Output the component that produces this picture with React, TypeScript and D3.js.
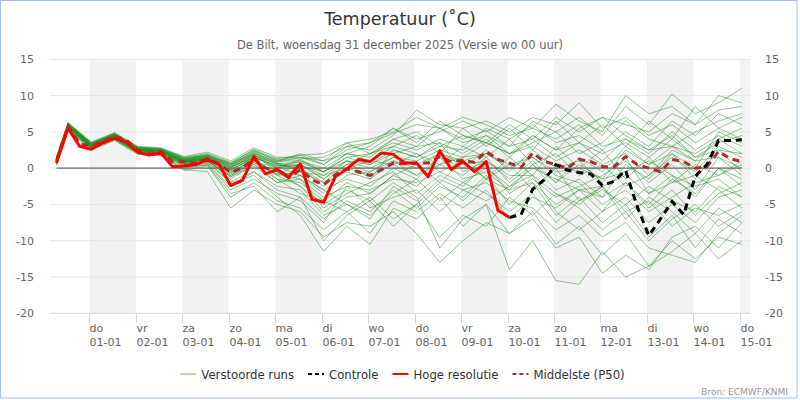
import { useEffect, useRef } from 'react';
import * as d3 from 'd3';

// ECMWF pluim De Bilt, run wo 31-12-2025 00 uur; tijdstappen van 6 uur vanaf 31-12 07:00
const runStart = new Date(2025, 11, 31, 7, 0);
const stepHours = 6;

const hogeResolutie = [
  0.7, 5.5, 3.0, 2.6, 3.5, 4.1, 3.6, 2.2, 1.8, 2.1,
  0.2, 0.3, 0.5, 1.2, 0.5, -2.4, -1.7, 1.6, -0.8, -0.2,
  -1.2, 0.6, -4.3, -4.7, -1.2, -0.1, 1.2, 0.9, 2.1, 1.9,
  0.7, 0.7, -1.2, 2.4, -0.2, 0.9, -0.5, 0.9, -5.8, -6.8,
];

// controle vanaf stap 39 (waar de hoge resolutie stopt)
const controleFirstStep = 39;
const controle = [
  -6.8, -6.4, -2.9, -1.6, 0.5, -0.3, -0.6, -0.8, -2.4, -1.8,
  -0.3, -5.3, -9.3, -7.0, -4.6, -6.4, -1.1, 0.5, 3.8, 3.8, 3.9,
];

const middelste = [
  1.0, 5.8, 3.3, 3.1, 3.7, 4.4, 3.9, 2.5, 2.0, 2.3,
  0.9, 0.9, 0.7, 1.3, 0.6, -0.6, 0.0, 1.3, 0.0, -0.2,
  -1.3, -0.2, -1.6, -2.3, -0.9, -0.1, -0.5, -1.0, -0.2, 0.7,
  0.6, 0.7, 0.7, 1.6, 0.9, 1.1, 0.8, 2.3, 1.2, 0.7,
  0.1, 2.1, 0.9, 0.5, 0.0, 1.2, 0.9, 0.2, 0.2, 1.6,
  0.5, 0.0, -0.5, 1.2, 0.9, 0.0, 0.2, 2.3, 1.3, 0.9,
];

const memberSteps = [
  0, 1, 3, 5, 7, 9, 11, 13, 15, 17, 19, 21, 23, 25, 27, 29,
  31, 33, 35, 37, 39, 41, 43, 45, 47, 49, 51, 53, 55, 57, 59,
];

const verstoordeRuns: number[][] = [
  [1.2, 6.0, 3.3, 4.6, 2.8, 2.5, 1.2, 1.8, 0.5, 2.0, 0.8, 1.5, 0.5, 2.5, 3.5, 4.8, 6.0, 5.5, 4.0, 5.2, 3.0, 6.5, 5.0, 7.0, 4.5, 8.5, 6.0, 10.2, 7.5, 9.0, 11.0],
  [0.8, 5.6, 2.9, 4.2, 2.3, 2.0, 0.5, 1.0, -1.5, 0.5, -1.5, -2.0, -4.5, -2.0, -3.5, -1.0, -2.5, 0.5, -1.0, 1.5, -2.0, 0.5, -3.0, -1.5, -4.0, -2.0, -5.5, -3.0, -6.5, -3.5, -2.0],
  [1.5, 6.2, 3.5, 4.8, 2.9, 2.7, 1.5, 2.0, 0.8, 2.5, 1.0, 1.0, -0.5, 1.5, 2.0, 3.5, 2.5, 4.0, 3.0, 5.5, 4.0, 6.0, 3.5, 4.5, 2.5, 5.0, 3.0, 6.5, 4.5, 7.5, 6.0],
  [0.5, 5.4, 2.7, 4.0, 2.0, 1.8, 0.0, 0.5, -2.5, -0.5, -3.0, -4.0, -7.0, -4.5, -6.0, -3.0, -5.5, -2.5, -4.0, -1.0, -5.0, -2.0, -6.5, -4.0, -7.5, -5.0, -9.5, -6.5, -11.0, -7.0, -9.0],
  [1.0, 5.9, 3.2, 4.5, 2.6, 2.4, 1.0, 1.5, 0.0, 1.8, 0.5, 0.0, -2.0, 0.5, -0.5, 1.5, 1.0, 2.5, 1.5, 3.5, 2.0, 3.0, 1.0, 2.5, 0.5, 2.0, -1.0, 1.5, -0.5, 3.0, 1.5],
  [0.9, 5.7, 3.0, 4.3, 2.4, 2.2, 0.7, 0.8, -2.0, -1.0, -4.0, -6.5, -11.5, -8.0, -10.5, -5.5, -7.0, -4.0, -8.0, -5.0, -9.0, -6.0, -10.5, -8.0, -12.0, -9.0, -13.5, -10.0, -12.5, -9.5, -10.5],
  [1.4, 6.1, 3.4, 4.7, 2.7, 2.6, 1.3, 1.6, 0.4, 2.3, 1.2, 1.3, 1.5, 3.0, 2.5, 4.5, 8.0, 6.0, 5.5, 6.5, 5.0, 7.0, 6.0, 9.0, 5.5, 7.0, 4.5, 6.0, 3.5, 5.5, 4.0],
  [1.1, 5.8, 3.1, 4.4, 2.5, 2.3, 0.9, 1.2, -0.8, 1.0, -0.5, -1.0, -3.0, -1.5, -2.5, 0.0, -1.5, 1.5, 0.0, 2.5, -0.5, 2.5, 0.0, 1.0, -2.0, 1.5, -3.5, -1.0, -4.0, 0.0, -1.5],
  [0.7, 5.5, 2.8, 4.1, 2.2, 2.1, 0.6, 0.9, -1.0, 0.8, -1.0, -2.5, -5.0, -3.0, -4.5, -2.0, -4.0, -11.0, -7.0, -5.0, -14.0, -10.0, -15.5, -16.0, -11.5, -15.0, -13.5, -11.5, -9.0, -12.5, -10.0],
  [1.3, 6.0, 3.3, 4.6, 2.7, 2.5, 1.1, 1.4, -0.3, 1.5, 0.0, 0.5, -1.5, 1.0, 0.5, 2.0, 3.0, 3.5, 2.0, 4.0, 1.5, 4.5, 2.5, 3.5, 1.0, 4.0, 2.0, 5.0, 2.5, 4.5, 3.0],
  [0.6, 5.3, 2.6, 3.9, 2.1, 1.9, -0.3, 0.3, -4.0, -2.0, -4.5, -5.5, -8.5, -6.0, -9.0, -4.5, -6.0, -3.5, -5.5, -3.0, -7.0, -4.0, -5.5, -3.0, -6.0, -2.0, -5.0, -1.5, -3.5, 0.0, -2.5],
  [1.6, 6.3, 3.6, 4.9, 3.0, 2.8, 1.6, 2.2, 1.0, 2.8, 1.5, 1.5, 1.0, 2.0, 3.0, 5.5, 4.0, 5.0, 6.5, 5.0, 7.0, 5.5, 8.8, 6.5, 5.0, 10.0, 7.5, 8.5, 6.0, 8.0, 8.5],
  [1.0, 5.8, 3.0, 4.3, 2.4, 2.2, 0.8, 1.1, -1.2, 0.3, -2.0, -1.5, -5.5, -3.5, -2.0, -0.5, -3.5, -1.0, -2.5, 0.5, -3.5, -1.5, -4.0, -2.5, -1.0, 1.0, -2.0, 0.5, -3.0, 1.5, 0.0],
  [1.2, 5.9, 3.2, 4.5, 2.6, 2.4, 1.0, 1.5, 0.2, 1.5, 0.3, 0.5, -1.0, 0.0, 1.0, 3.0, 2.0, 0.5, 3.0, 1.5, 4.0, 0.5, 2.0, -1.0, 0.5, -2.5, -1.0, 2.5, 1.0, 4.0, 2.0],
  [0.4, 5.2, 2.5, 3.8, 1.9, 1.7, -0.2, -0.5, -5.5, -3.0, -5.0, -6.0, -9.5, -7.5, -8.0, -6.0, -9.0, -13.0, -10.0, -7.5, -9.0, -7.0, -11.0, -9.5, -14.5, -12.0, -14.0, -9.5, -8.0, -11.0, -7.5],
  [1.1, 5.9, 3.2, 4.5, 2.6, 2.4, 0.9, 1.3, -0.5, 1.0, 0.0, 1.0, 0.0, 2.0, 1.5, 4.0, 5.0, 3.0, 4.5, 3.5, 6.0, 4.0, 7.0, 5.0, 7.0, 6.0, 5.0, 7.5, 6.0, 10.0, 9.0],
  [0.8, 5.6, 2.9, 4.2, 2.3, 2.0, 0.4, 0.7, -1.8, -0.5, -2.5, -3.0, -6.5, -5.0, -7.0, -2.5, -4.5, -1.5, -3.0, -2.0, -4.5, -5.5, -8.5, -6.5, -9.5, -7.5, -11.0, -12.0, -13.0, -9.0, -6.5],
  [1.3, 6.1, 3.4, 4.7, 2.8, 2.6, 1.4, 1.7, 0.6, 2.2, 0.7, -0.5, -1.0, 1.0, -1.5, 1.0, 0.0, 2.0, 0.5, 1.0, -1.5, 1.0, -2.0, 0.5, -1.5, -0.5, 1.0, -1.0, -2.5, -1.5, -4.0],
  [0.9, 5.7, 3.0, 4.3, 2.4, 2.2, 0.8, 1.2, -0.2, 1.3, -1.0, -0.5, -2.0, -0.5, -1.5, 2.5, 1.5, 3.5, -0.5, 1.0, -1.0, -1.0, -3.5, -5.0, -2.5, -6.0, -4.5, -8.0, -5.5, -6.5, -5.0],
  [1.5, 6.2, 3.5, 4.8, 2.9, 2.7, 1.4, 1.9, 0.7, 2.6, 1.3, 1.8, 2.0, 3.5, 4.0, 5.0, 7.0, 5.5, 7.0, 6.0, 4.5, 5.5, 4.0, 6.0, 3.0, 4.0, 2.5, 3.0, 2.0, 4.0, 5.5],
  [0.7, 5.5, 2.8, 4.1, 2.2, 2.0, 0.3, 0.6, -3.0, -1.5, -3.5, -4.5, -7.5, -2.5, -5.5, -4.0, -3.0, -6.0, -3.0, -4.5, -2.5, -1.0, -6.0, -8.5, -6.0, -4.0, -7.5, -5.0, -7.5, -4.0, -3.0],
  [1.0, 5.8, 3.1, 4.4, 2.5, 2.3, 0.9, 1.4, -0.4, 1.6, 0.2, -1.0, -3.5, -1.0, -0.5, 1.0, -1.0, 0.5, 1.5, 2.0, 0.0, 1.5, -1.0, -2.0, -5.0, -3.0, -6.0, -4.0, -2.0, -1.0, 0.5],
  [1.1, 5.9, 3.1, 4.4, 2.5, 2.3, 1.0, 1.3, 0.1, 1.8, 0.6, 0.8, -0.5, 1.5, 0.5, 2.5, 1.5, 3.0, 2.5, 4.5, 3.0, 4.0, 1.5, 3.5, 2.0, 3.5, 1.5, 4.0, 1.5, 2.5, 2.0],
  [0.8, 5.6, 2.8, 4.2, 2.3, 2.1, 0.6, 1.0, -1.0, 0.8, -0.8, -1.5, -4.0, -2.5, -3.0, -1.5, -2.0, -0.5, -2.0, 0.0, -2.5, 0.0, -1.5, -3.0, -2.5, -1.0, -3.5, -2.0, -1.0, -3.0, -5.5],
  [1.0, 5.7, 3.0, 4.4, 2.5, 2.2, 0.8, 1.2, -0.6, 1.2, -0.8, 0.5, -1.5, 0.5, 2.0, 4.0, 3.0, 5.5, 3.5, 4.5, 2.0, 3.5, 5.0, 2.0, 3.5, 6.5, 4.0, 3.0, 5.0, 6.5, 7.5],
  [1.2, 6.0, 3.2, 4.5, 2.7, 2.4, 1.1, 1.6, 0.3, 1.9, -0.5, -2.5, -6.0, -4.0, -3.5, -1.0, 0.5, -2.0, 1.0, -1.5, 0.5, -3.0, 0.0, -4.5, -2.5, -7.0, -4.0, -6.0, -9.0, -5.5, -7.5],
  [0.9, 5.8, 3.1, 4.3, 2.4, 2.3, 0.7, 1.3, -0.7, 1.4, -1.5, -3.5, -4.5, -6.0, -4.0, -7.0, -5.0, -2.0, -4.5, -1.5, -3.0, 0.5, -2.0, 1.5, -0.5, 3.0, 0.5, 2.0, -1.5, 2.5, -0.5],
  [1.3, 6.0, 3.3, 4.6, 2.7, 2.5, 1.2, 1.7, 0.4, 2.1, 0.9, 2.0, 1.0, 3.5, 2.0, 3.0, 4.5, 2.0, 5.5, 3.0, 5.5, 2.5, 6.5, 3.5, 6.0, 3.0, 6.5, 4.0, 8.5, 5.5, 7.0],
  [0.6, 5.4, 2.7, 4.0, 2.1, 1.9, 0.2, 0.4, -3.5, -2.5, -6.0, -4.0, -10.0, -6.5, -4.5, -8.0, -5.0, -9.5, -6.5, -8.0, -4.0, -6.5, -3.5, -5.5, -8.5, -6.0, -10.0, -7.0, -5.0, -8.0, -6.0],
  [1.1, 5.9, 3.2, 4.5, 2.6, 2.4, 1.0, 1.4, 0.0, 1.7, 0.4, 0.0, -2.5, 0.0, -1.0, 0.5, 2.0, -0.5, 1.0, -1.5, 1.5, -1.0, 3.0, 0.0, 2.5, -1.5, 1.5, -2.0, 0.5, -1.0, 1.0],
  [1.4, 6.1, 3.4, 4.7, 2.8, 2.6, 1.3, 1.8, 0.6, 2.4, 1.0, 1.8, 0.5, 3.0, 3.5, 5.5, 3.5, 6.5, 4.5, 3.5, 2.0, 4.5, 2.5, 5.5, 7.0, 4.5, 2.5, 4.5, 1.5, 3.5, 4.5],
  [0.8, 5.6, 2.9, 4.2, 2.3, 2.1, 0.5, 0.9, -1.2, 0.6, -2.0, -1.0, -3.0, -5.0, -6.5, -3.5, -1.5, -4.5, -2.0, -3.5, -6.0, -3.5, -7.5, -4.5, -3.0, -5.0, -2.5, -4.5, -6.0, -2.5, -4.0],
  [1.0, 5.8, 3.1, 4.4, 2.5, 2.3, 0.9, 1.3, -0.2, 1.5, 0.1, 1.2, -0.5, 2.0, 1.0, 0.5, -1.0, 1.5, -1.5, -0.5, -3.0, -2.0, -5.0, -3.0, -4.0, 0.5, -1.5, 2.0, 0.0, 5.0, 3.5],
  [1.2, 6.0, 3.3, 4.5, 2.7, 2.5, 1.1, 1.6, 0.2, 2.0, 0.6, 0.3, -0.5, 1.0, 0.0, 1.5, 0.5, 2.0, 1.0, 2.0, 0.5, 1.5, -0.5, 0.0, -1.5, 2.5, 0.5, 3.0, 1.0, 1.5, -1.0],
];

const yTicks = [15, 10, 5, 0, -5, -10, -15, -20];
const dayNames = ['zo', 'ma', 'di', 'wo', 'do', 'vr', 'za'];
const firstDay = new Date(2026, 0, 1);
const lastDay = new Date(2026, 0, 16);

const legendItems = [
  { label: 'Verstoorde runs', color: '#b3dcb3', dash: null },
  { label: 'Controle', color: '#000000', dash: '4,3' },
  { label: 'Hoge resolutie', color: '#ff0000', dash: null },
  { label: 'Middelste (P50)', color: '#b22a2a', dash: '4,3' },
];

const FONT = '"DejaVu Sans", Verdana, sans-serif';

const stepTime = (i: number) => new Date(runStart.getTime() + i * stepHours * 3600 * 1000);

const App = () => {
  const svgRef = useRef<SVGSVGElement | null>(null);
  const width = 800;
  const height = 400;

  useEffect(() => {
    if (!svgRef.current) return;
    const svg = d3.select(svgRef.current);
    svg.selectAll('*').remove();

    const plot = { left: 50, right: 750, top: 59.3, bottom: 313.3 };

    const x = d3.scaleTime()
      .domain([new Date(2025, 11, 31, 3, 40), new Date(2026, 0, 15, 5, 15)])
      .range([plot.left, plot.right]);
    const y = d3.scaleLinear().domain([-20, 15]).range([plot.bottom, plot.top]);

    // frame
    svg.append('rect')
      .attr('x', 0.5).attr('y', 0.5)
      .attr('width', 796.5).attr('height', 397.5)
      .attr('fill', '#ffffff')
      .attr('stroke', '#9cc1ec');

    // title
    svg.append('text')
      .attr('x', 400).attr('y', 25)
      .attr('text-anchor', 'middle')
      .style('font-family', FONT).style('font-size', '17.5px')
      .attr('fill', '#333333')
      .text('Temperatuur (˚C)');

    svg.append('text')
      .attr('x', 400).attr('y', 49)
      .attr('text-anchor', 'middle')
      .style('font-family', FONT).style('font-size', '11.5px')
      .attr('fill', '#666666')
      .text('De Bilt, woensdag 31 december 2025 (Versie wo 00 uur)');

    // alternating day bands
    const days = d3.timeDay.range(firstDay, lastDay);
    svg.append('g')
      .selectAll('rect')
      .data(days.filter((_, i) => i % 2 === 0))
      .enter()
      .append('rect')
      .attr('x', d => x(d))
      .attr('y', plot.top)
      .attr('width', d => Math.max(0, Math.min(x(d3.timeDay.offset(d, 1)), plot.right) - x(d)))
      .attr('height', plot.bottom - plot.top)
      .attr('fill', '#f2f2f2');

    // grid
    svg.append('g')
      .selectAll('line')
      .data(yTicks.filter(t => t !== -20))
      .enter()
      .append('line')
      .attr('x1', plot.left).attr('x2', plot.right)
      .attr('y1', d => y(d)).attr('y2', d => y(d))
      .attr('stroke', '#e6e6e6')
      .attr('stroke-width', 1);

    // y labels, both sides
    const yLabels = svg.append('g')
      .style('font-family', FONT).style('font-size', '11px')
      .attr('fill', '#666666');
    yTicks.forEach(t => {
      yLabels.append('text')
        .attr('x', 34).attr('y', y(t) + 4)
        .attr('text-anchor', 'end')
        .text(String(t));
      yLabels.append('text')
        .attr('x', 765).attr('y', y(t) + 4)
        .attr('text-anchor', 'start')
        .text(String(t));
    });

    // x axis
    svg.append('line')
      .attr('x1', plot.left).attr('x2', plot.right)
      .attr('y1', plot.bottom).attr('y2', plot.bottom)
      .attr('stroke', '#ccd6eb');
    const xTicks = days.filter(d => x(d) <= plot.right);
    const xAxis = svg.append('g')
      .style('font-family', FONT).style('font-size', '11px')
      .attr('fill', '#666666');
    xTicks.forEach(d => {
      const px = Math.round(x(d)) + 0.5;
      xAxis.append('line')
        .attr('x1', px).attr('x2', px)
        .attr('y1', plot.bottom).attr('y2', plot.bottom + 10)
        .attr('stroke', '#ccd6eb');
      xAxis.append('text')
        .attr('x', px).attr('y', 331.5)
        .text(dayNames[d.getDay()]);
      xAxis.append('text')
        .attr('x', px).attr('y', 346)
        .text(d3.timeFormat('%d-%m')(d));
    });

    const line = d3.line<[number, number]>()
      .x(d => x(stepTime(d[0])))
      .y(d => y(d[1]));

    // perturbed members
    const membersG = svg.append('g');
    verstoordeRuns.forEach(run => {
      membersG.append('path')
        .datum(run.map((v, i) => [memberSteps[i], v] as [number, number]))
        .attr('fill', 'none')
        .attr('stroke', '#1f8f1f')
        .attr('stroke-opacity', 0.5)
        .attr('stroke-width', 1)
        .attr('stroke-linejoin', 'round')
        .attr('d', line);
    });

    // zero line
    svg.append('line')
      .attr('x1', x(stepTime(0))).attr('x2', x(stepTime(middelste.length - 1)))
      .attr('y1', y(0)).attr('y2', y(0))
      .attr('stroke', '#6a6a6a')
      .attr('stroke-width', 1.3);

    svg.append('path')
      .datum(middelste.map((v, i) => [i, v] as [number, number]))
      .attr('fill', 'none')
      .attr('stroke', '#b22a2a')
      .attr('stroke-width', 3)
      .attr('stroke-dasharray', '7,5')
      .attr('d', line);

    svg.append('path')
      .datum(controle.map((v, i) => [controleFirstStep + i, v] as [number, number]))
      .attr('fill', 'none')
      .attr('stroke', '#000000')
      .attr('stroke-width', 3)
      .attr('stroke-dasharray', '7,5')
      .attr('d', line);

    svg.append('path')
      .datum(hogeResolutie.map((v, i) => [i, v] as [number, number]))
      .attr('fill', 'none')
      .attr('stroke', '#ff0000')
      .attr('stroke-width', 3)
      .attr('stroke-linejoin', 'round')
      .attr('d', line);

    // legend
    const legend = svg.append('g')
      .style('font-family', FONT).style('font-size', '11.7px');
    const items = legendItems.map(item => {
      const g = legend.append('g');
      g.append('line')
        .attr('x1', 0).attr('x2', 16)
        .attr('y1', 0).attr('y2', 0)
        .attr('stroke', item.color)
        .attr('stroke-width', 2)
        .attr('stroke-dasharray', item.dash ?? null);
      const t = g.append('text')
        .attr('x', 21).attr('y', 4.5)
        .attr('fill', '#333333')
        .text(item.label);
      const w = 21 + (t.node() as SVGTextElement).getComputedTextLength();
      return { g, w };
    });
    const gap = 14;
    const total = d3.sum(items, d => d.w) + gap * (items.length - 1);
    let cx = 402.5 - total / 2;
    items.forEach(({ g, w }) => {
      g.attr('transform', `translate(${cx},374)`);
      cx += w + gap;
    });

    svg.append('text')
      .attr('x', 788).attr('y', 395)
      .attr('text-anchor', 'end')
      .style('font-family', FONT).style('font-size', '9px')
      .attr('fill', '#999999')
      .text('Bron: ECMWF/KNMI');
  }, []);

  return (
    <div style={{ position: 'absolute', left: 0, top: 0 }}>
      <svg ref={svgRef} width={width} height={height} style={{ display: 'block' }} />
    </div>
  );
};

export default App;
